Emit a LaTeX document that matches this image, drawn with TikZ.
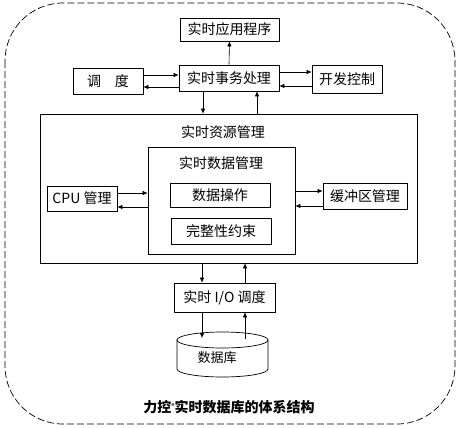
\documentclass[tikz,border=0pt]{standalone}
\usepackage{fontspec}
\usepackage{tikz}
\usetikzlibrary{positioning,arrows.meta,calc}
\newfontfamily\cjk{Noto Sans CJK SC}
\tikzset{
  blk/.style={draw,line width=0.7pt,inner sep=1pt,font=\cjk\fontsize{14}{16}\selectfont},
  ttl/.style={inner sep=0pt,font=\cjk\fontsize{14}{16}\selectfont},
  arr/.style={draw,line width=0.6pt,-{Latex[length=5pt,width=4.5pt]}},
}
\begin{document}
\begin{tikzpicture}[x=1pt,y=-1pt]
\useasboundingbox (0,0) rectangle (459,429);

\draw[line width=0.7pt,dash pattern=on 7pt off 3pt,rounded corners=58pt] (5,3) rectangle (455,424);

\node[blk,minimum width=99pt,minimum height=23pt] (app) at (229.5,29.5) {实时应用程序};
\node[blk,minimum width=70pt,minimum height=26pt] (sched) at (108,81) {调\hspace{1em}度};
\node[blk,minimum width=100pt,minimum height=26pt] (txn) at (229,78) {实时事务处理};
\node[blk,minimum width=70pt,minimum height=28pt] (conc) at (347,79) {开发控制};

\node[blk,minimum width=377pt,minimum height=149pt] (res) at (228.5,188.5) {};
\node[ttl] (restitle) at (223,132) {实时资源管理};
\node[blk,minimum width=147pt,minimum height=107pt] (data) at (221.5,200.5) {};
\node[ttl] (datatitle) at (221,163) {实时数据管理};
\node[blk,minimum width=100pt,minimum height=24pt] (ops) at (220,195) {数据操作};
\node[blk,minimum width=100pt,minimum height=26pt] (integ) at (221,231) {完整性约束};
\node[blk,minimum width=70pt,minimum height=25pt] (cpu) at (82,198.5) {CPU 管理};
\node[blk,minimum width=84pt,minimum height=26pt] (buf) at (365,196) {缓冲区管理};

\node[blk,minimum width=101pt,minimum height=29pt] (io) at (224.5,297.5) {实时 I/O 调度};

\draw[line width=0.7pt] (177,340) -- (177,369) arc[start angle=180,end angle=360,x radius=45.5pt,y radius=8pt] -- (268,340);
\draw[line width=0.7pt] (222.5,340) ellipse[x radius=45.5pt,y radius=8pt];
\node[ttl,font=\cjk\fontsize{13}{15}\selectfont] (db) at (217,358) {数据库};
\coordinate (dbin) at (202,338);
\coordinate (dbout) at (245,339);

\node[inner sep=0pt,font=\cjk\bfseries\fontsize{14}{16}\selectfont] (cap) at (229,407) {力控\raisebox{4pt}{\fontsize{6}{6}\selectfont ®}实时数据库的体系结构};

\path
(txn.north) edge[arr] (app.south)
(sched.east |- 0,75) edge[arr] (txn.west |- 0,75)
(txn.west |- 0,87) edge[arr] (sched.east |- 0,87)
(txn.east |- 0,72) edge[arr] (conc.west |- 0,72)
(conc.west |- 0,86) edge[arr] (txn.east |- 0,86)
(txn.south -| 203,0) edge[arr] (res.north -| 203,0)
(res.north -| 257,0) edge[arr] (txn.south -| 257,0)
(cpu.east |- 0,193) edge[arr] (data.west |- 0,193)
(data.west |- 0,207) edge[arr] (cpu.east |- 0,207)
(data.east |- 0,191) edge[arr] (buf.west |- 0,191)
(buf.west |- 0,206) edge[arr] (data.east |- 0,206)
(res.south -| 202,0) edge[arr] (io.north -| 202,0)
(io.north -| 245,0) edge[arr] (res.south -| 245,0)
(io.south -| 202,0) edge[arr] (dbin)
(dbout) edge[arr] (io.south -| 245,0);

\end{tikzpicture}
\end{document}
